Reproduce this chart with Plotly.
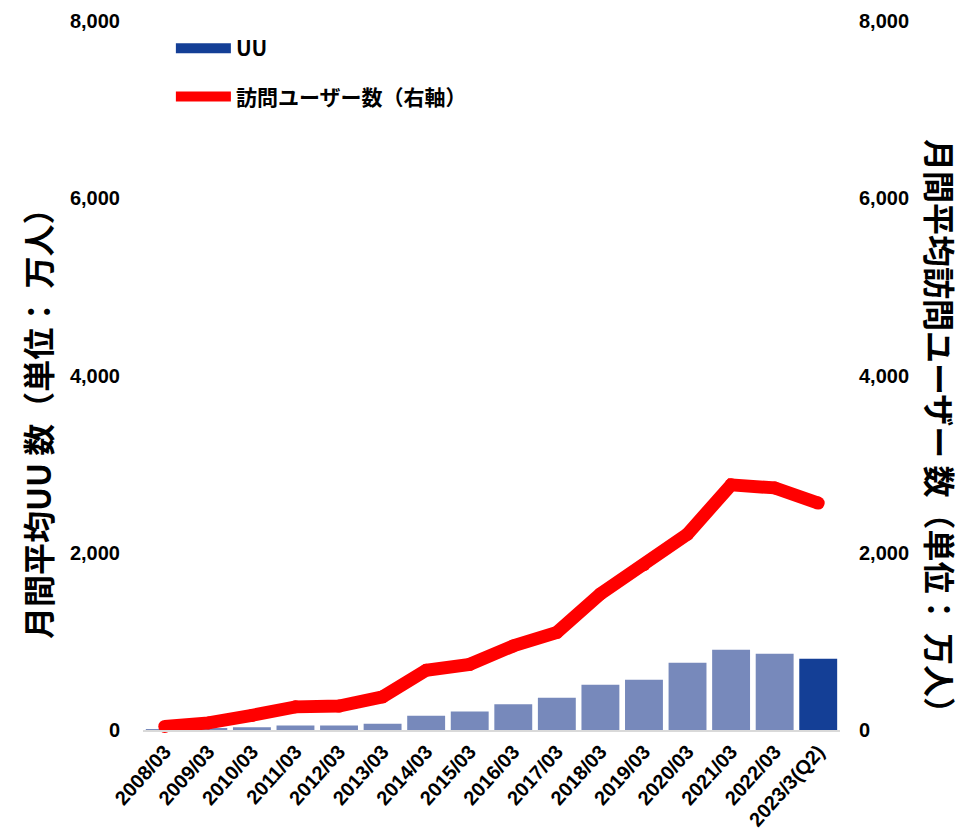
import plotly.graph_objects as go

categories = ["2008/03", "2009/03", "2010/03", "2011/03", "2012/03", "2013/03",
              "2014/03", "2015/03", "2016/03", "2017/03", "2018/03", "2019/03",
              "2020/03", "2021/03", "2022/03", "2023/3(Q2)"]
uu_values = [10, 20, 30, 50, 50, 70, 160, 210, 290, 365, 510, 567, 758, 905, 860, 803]
visitor_values = [40, 80, 165, 261, 270, 374, 674, 741, 949, 1102, 1535, 1865, 2211,
                  2766, 2732, 2560]
y_ticks = [0, 2000, 4000, 6000, 8000]

LIGHT = "#7789BB"
DARK = "#143F96"
RED = "#FF0000"
bar_colors = [LIGHT] * (len(categories) - 1) + [DARK]

LAT = "Liberation Sans, Arial, sans-serif"
JP_FONT = "Noto Sans CJK JP, sans-serif"
TICK_FONT = dict(family=LAT, size=20, color="#000000", weight="bold")

fig = go.Figure()

# legend-only entry for UU (wide rectangle symbol); no drawn mark
fig.add_trace(go.Scatter(
    x=categories[:1], y=[None], mode="lines", name="UU",
    line=dict(color=DARK, width=10), legendgroup="a", hoverinfo="skip"))

fig.add_trace(go.Bar(
    x=categories, y=uu_values, marker=dict(color=bar_colors, line=dict(width=0)),
    showlegend=False, name="UU"))

fig.add_trace(go.Scatter(
    x=categories, y=visitor_values, yaxis="y2", mode="lines",
    line=dict(color=RED, width=13), name="訪問ユーザー数（右軸）",
    legendgroup="b"))
fig.add_trace(go.Scatter(
    x=categories, y=visitor_values, yaxis="y2", mode="markers",
    marker=dict(color=RED, size=13, line=dict(width=0)), showlegend=False,
    hoverinfo="skip", cliponaxis=False))

fig.update_layout(
    width=964, height=831,
    margin=dict(l=143, r=124, t=21, b=101, pad=0),
    paper_bgcolor="white", plot_bgcolor="white",
    bargap=0.13,
    showlegend=True,
    legend=dict(x=0.04, y=0.99, xanchor="left", yanchor="top",
                traceorder="grouped", tracegroupgap=18, itemwidth=55,
                font=dict(family=JP_FONT, size=21, color="#000000", weight="bold"),
                bgcolor="rgba(0,0,0,0)"),
    xaxis=dict(type="category", tickangle=-48, automargin=False,
               range=[-0.5, len(categories) - 0.5],
               tickfont=dict(family=LAT, size=20, color="#000000", weight="bold"),
               showline=True, linecolor="#D9D9D9", linewidth=2, showgrid=False,
               ticks="", zeroline=False),
    yaxis=dict(range=[0, 8000], tickvals=y_ticks, tickformat=",", showgrid=False,
               zeroline=False, showline=False, ticks="", automargin=False,
               tickfont=TICK_FONT, ticklabelstandoff=22),
    yaxis2=dict(range=[0, 8000], tickvals=y_ticks, tickformat=",", showgrid=False,
                zeroline=False, showline=False, ticks="", overlaying="y", side="right",
                automargin=False, tickfont=TICK_FONT, ticklabelstandoff=18),
    annotations=[
        dict(text="月間平均UU 数（単位： 万人）", textangle=-90, showarrow=False,
             xref="paper", yref="paper", x=(37 - 143) / 697, y=(730 - 416) / 709,
             xanchor="center", yanchor="middle",
             font=dict(family=JP_FONT, size=32, color="#000000", weight="bold")),
        dict(text="月間平均訪問ユーザー 数（単位： 万人）", textangle=90, showarrow=False,
             xref="paper", yref="paper", x=(941 - 143) / 697, y=(730 - 434) / 709,
             xanchor="center", yanchor="middle",
             font=dict(family=JP_FONT, size=32, color="#000000", weight="bold")),
    ],
)

fig.write_html("out.html")
